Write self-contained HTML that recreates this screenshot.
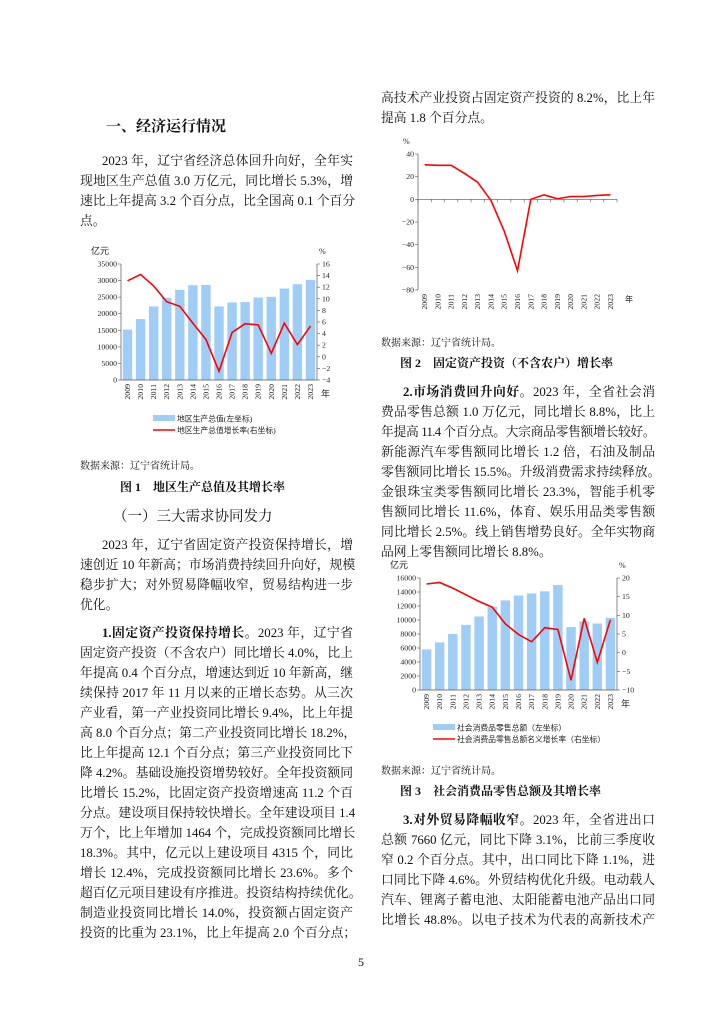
<!DOCTYPE html>
<html><head><meta charset="utf-8"><style>
body{margin:0;background:#fff;}
#p{position:relative;width:724px;height:1024px;overflow:hidden;font-family:"Liberation Serif","Noto Serif CJK SC",serif;color:#111;}
.l{position:absolute;font-size:12.8px;line-height:16px;white-space:nowrap;height:16px;text-align:justify;text-align-last:justify;}
.L{left:80px;width:273px}.Li{left:102px;width:251px}
.R{left:381px;width:274px}.Ri{left:403px;width:252px}
.n{text-align-last:left}
b{font-weight:bold}
svg{position:absolute;left:0;top:0}
</style></head><body><div id="p">
<svg width="724" height="1024" font-family="Liberation Serif,serif" font-size="7.8" fill="#222">
<g id="c1"></g>
</svg>
<div class="l n" style="left:106px;top:119px;font-size:15px;font-weight:bold">一、经济运行情况</div>
<div class="l Li" style="top:153px">2023 年，辽宁省经济总体回升向好，全年实</div>
<div class="l L" style="top:173px">现地区生产总值 3.0 万亿元，同比增长 5.3%，增</div>
<div class="l L" style="top:193px">速比上年提高 3.2 个百分点，比全国高 0.1 个百分</div>
<div class="l L n" style="top:213px">点。</div>
<div class="l L n" style="top:459px;font-size:10px">数据来源：辽宁省统计局。</div>
<div class="l n" style="left:120px;top:479px;font-size:12px;font-weight:bold">图 1　地区生产总值及其增长率</div>
<div class="l n" style="left:113px;top:509px;font-size:14.5px">（一）三大需求协同发力</div>
<div class="l Li" style="top:537px">2023 年，辽宁省固定资产投资保持增长，增</div>
<div class="l L" style="top:557px">速创近 10 年新高；市场消费持续回升向好，规模</div>
<div class="l L" style="top:577px">稳步扩大；对外贸易降幅收窄，贸易结构进一步</div>
<div class="l L n" style="top:597px">优化。</div>
<div class="l Li" style="top:625px"><b>1.固定资产投资保持增长。</b>2023 年，辽宁省</div>
<div class="l L" style="top:645px">固定资产投资（不含农户）同比增长 4.0%，比上</div>
<div class="l L" style="top:665px">年提高 0.4 个百分点，增速达到近 10 年新高，继</div>
<div class="l L" style="top:685px">续保持 2017 年 11 月以来的正增长态势。从三次</div>
<div class="l L" style="top:705px">产业看，第一产业投资同比增长 9.4%，比上年提</div>
<div class="l L" style="top:725px">高 8.0 个百分点；第二产业投资同比增长 18.2%，</div>
<div class="l L" style="top:745px">比上年提高 12.1 个百分点；第三产业投资同比下</div>
<div class="l L" style="top:765px">降 4.2%。基础设施投资增势较好。全年投资额同</div>
<div class="l L" style="top:785px">比增长 15.2%，比固定资产投资增速高 11.2 个百</div>
<div class="l L" style="top:805px">分点。建设项目保持较快增长。全年建设项目 1.4</div>
<div class="l L" style="top:825px">万个，比上年增加 1464 个，完成投资额同比增长</div>
<div class="l L" style="top:845px">18.3%。其中，亿元以上建设项目 4315 个，同比</div>
<div class="l L" style="top:865px">增长 12.4%，完成投资额同比增长 23.6%。多个</div>
<div class="l L" style="top:885px">超百亿元项目建设有序推进。投资结构持续优化。</div>
<div class="l L" style="top:905px">制造业投资同比增长 14.0%，投资额占固定资产</div>
<div class="l L" style="top:925px">投资的比重为 23.1%，比上年提高 2.0 个百分点；</div>

<div class="l R" style="top:90px">高技术产业投资占固定资产投资的 8.2%，比上年</div>
<div class="l R n" style="top:110px">提高 1.8 个百分点。</div>
<div class="l R n" style="top:336px;font-size:10px">数据来源：辽宁省统计局。</div>
<div class="l n" style="left:400px;top:355px;font-size:12px;font-weight:bold">图 2　固定资产投资（不含农户）增长率</div>
<div class="l Ri" style="top:384px"><b>2.市场消费回升向好。</b>2023 年，全省社会消</div>
<div class="l R" style="top:404px">费品零售总额 1.0 万亿元，同比增长 8.8%，比上</div>
<div class="l R" style="top:424px;letter-spacing:-0.7px">年提高 11.4 个百分点。大宗商品零售额增长较好。</div>
<div class="l R" style="top:444px">新能源汽车零售额同比增长 1.2 倍，石油及制品</div>
<div class="l R" style="top:464px">零售额同比增长 15.5%。升级消费需求持续释放。</div>
<div class="l R" style="top:484px">金银珠宝类零售额同比增长 23.3%，智能手机零</div>
<div class="l R" style="top:504px">售额同比增长 11.6%，体育、娱乐用品类零售额</div>
<div class="l R" style="top:524px">同比增长 2.5%。线上销售增势良好。全年实物商</div>
<div class="l R n" style="top:544px">品网上零售额同比增长 8.8%。</div>
<div class="l R n" style="top:764px;font-size:10px">数据来源：辽宁省统计局。</div>
<div class="l n" style="left:400px;top:783px;font-size:12px;font-weight:bold">图 3　社会消费品零售总额及其增长率</div>
<div class="l Ri" style="top:812px"><b>3.对外贸易降幅收窄。</b>2023 年，全省进出口</div>
<div class="l R" style="top:832px">总额 7660 亿元，同比下降 3.1%，比前三季度收</div>
<div class="l R" style="top:852px">窄 0.2 个百分点。其中，出口同比下降 1.1%，进</div>
<div class="l R" style="top:872px">口同比下降 4.6%。外贸结构优化升级。电动载人</div>
<div class="l R" style="top:892px">汽车、锂离子蓄电池、太阳能蓄电池产品出口同</div>
<div class="l R" style="top:912px">比增长 48.8%。以电子技术为代表的高新技术产</div>
<div class="l n" style="left:358px;top:954px;font-size:12px">5</div>
</div>
<script>
var NS="http://www.w3.org/2000/svg",g=document.getElementById('c1');
function el(t,a,txt){var e=document.createElementNS(NS,t);for(var k in a)e.setAttribute(k,a[k]);if(txt!=null)e.textContent=txt;g.appendChild(e);return e;}
var yrs=[];for(var i=2009;i<=2023;i++)yrs.push(i);
function chart(o){
  var x0=o.x0,x1=o.x1,y0=o.yTop,y1=o.yBot,n=15,w=(x1-x0)/n;
  function X(i){return x0+w*(i+0.5);}
  if(o.bars){
    function YL(v){return y1-(v-o.lmin)/(o.lmax-o.lmin)*(y1-y0);}
    o.bars.forEach(function(v,i){el('rect',{x:X(i)-w*0.36,y:YL(v),width:w*0.72,height:y1-YL(v),fill:'#9fcdf5'});});
    for(var v=o.lmin;v<=o.lmax;v+=o.lstep){el('text',{x:x0-4,y:YL(v)+2.5,'text-anchor':'end'},v);el('line',{x1:x0-3,x2:x0,y1:YL(v),y2:YL(v),stroke:'#555','stroke-width':0.6});}
    el('text',{x:x0-30,y:y0-10,'font-size':9},'亿元');
  }
  function YR(v){return y1-(v-o.rmin)/(o.rmax-o.rmin)*(y1-y0);}
  if(o.bars){
    for(var v=o.rmin;v<=o.rmax;v+=o.rstep){el('text',{x:x1+5,y:YR(v)+2.5},v<0?'−'+(-v):v);el('line',{x1:x1,x2:x1+3,y1:YR(v),y2:YR(v),stroke:'#555','stroke-width':0.6});}
    el('line',{x1:x1,x2:x1,y1:y0,y2:y1,stroke:'#555','stroke-width':0.7});
    el('line',{x1:x0,x2:x1,y1:y1,y2:y1,stroke:'#555','stroke-width':0.7});
    el('text',{x:x1+2,y:y0-10,'font-size':8},'%');
    el('text',{x:x1+4,y:y1+17,'font-size':9},'年');
  } else {
    for(var v=o.rmin;v<=o.rmax;v+=o.rstep){el('text',{x:x0-4,y:YR(v)+2.5,'text-anchor':'end'},v<0?'−'+(-v):v);el('line',{x1:x0-3,x2:x0,y1:YR(v),y2:YR(v),stroke:'#555','stroke-width':0.6});}
    el('line',{x1:x0,x2:x1,y1:YR(0),y2:YR(0),stroke:'#555','stroke-width':0.7});
    for(var i=0;i<=n;i++)el('line',{x1:x0+w*i,x2:x0+w*i,y1:YR(0),y2:YR(0)+3,stroke:'#555','stroke-width':0.6});
    el('text',{x:x0-15,y:y0-10,'font-size':8},'%');
    el('text',{x:x1+8,y:y1+12,'font-size':8},'年');
  }
  el('line',{x1:x0,x2:x0,y1:y0,y2:y1,stroke:'#555','stroke-width':0.7});
  var pts=o.line.map(function(v,i){return X(i).toFixed(1)+','+YR(v).toFixed(1);}).join(' ');
  el('polyline',{points:pts,fill:'none',stroke:'#f00','stroke-width':1.6});
  yrs.forEach(function(y,i){el('text',{transform:'translate('+(X(i)+2.5)+','+(y1+4)+') rotate(-90)','text-anchor':'end'},y);});
  if(o.leg){
    el('rect',{x:o.leg[0],y:o.leg[1]-4,width:22,height:6,fill:'#9fcdf5'});
    el('text',{x:o.leg[0]+24,y:o.leg[1]+2.5},o.leg[2]);
    el('line',{x1:o.leg[0],x2:o.leg[0]+22,y1:o.leg[1]+11,y2:o.leg[1]+11,stroke:'#f00','stroke-width':1.6});
    el('text',{x:o.leg[0]+24,y:o.leg[1]+14},o.leg[3]);
  }
}
chart({x0:121,x1:317,yTop:264,yBot:380,lmin:0,lmax:35000,lstep:5000,rmin:-4,rmax:16,rstep:2,
 bars:[15200,18400,22200,24800,27200,28600,28700,22200,23400,23500,24900,25100,27600,28900,30200],
 line:[13.1,14.2,12.2,9.5,8.7,5.8,3.0,-2.5,4.2,5.7,5.5,0.6,5.8,2.1,5.3],
 leg:[153,419,'地区生产总值(左坐标)','地区生产总值增长率(右坐标)']});
chart({x0:418,x1:617,yTop:154,yBot:290,rmin:-80,rmax:40,rstep:20,
 line:[30.5,30,30,23,15,-1,-28,-63,0,4,0.5,2.5,2.5,3.5,4]});
chart({x0:420,x1:617,yTop:578,yBot:690,lmin:0,lmax:16000,lstep:2000,rmin:-10,rmax:20,rstep:5,
 bars:[5800,6800,8000,9300,10500,11900,12800,13500,13800,14100,15000,9000,9800,9500,10300],
 line:[18.4,18.8,17.3,15.5,13.7,12.2,7.7,4.9,2.9,6.7,6.2,-7.4,9.2,-2.6,8.8],
 leg:[433,728,'社会消费品零售总额（左坐标）','社会消费品零售总额名义增长率（右坐标）']});
</script>
</body></html>
